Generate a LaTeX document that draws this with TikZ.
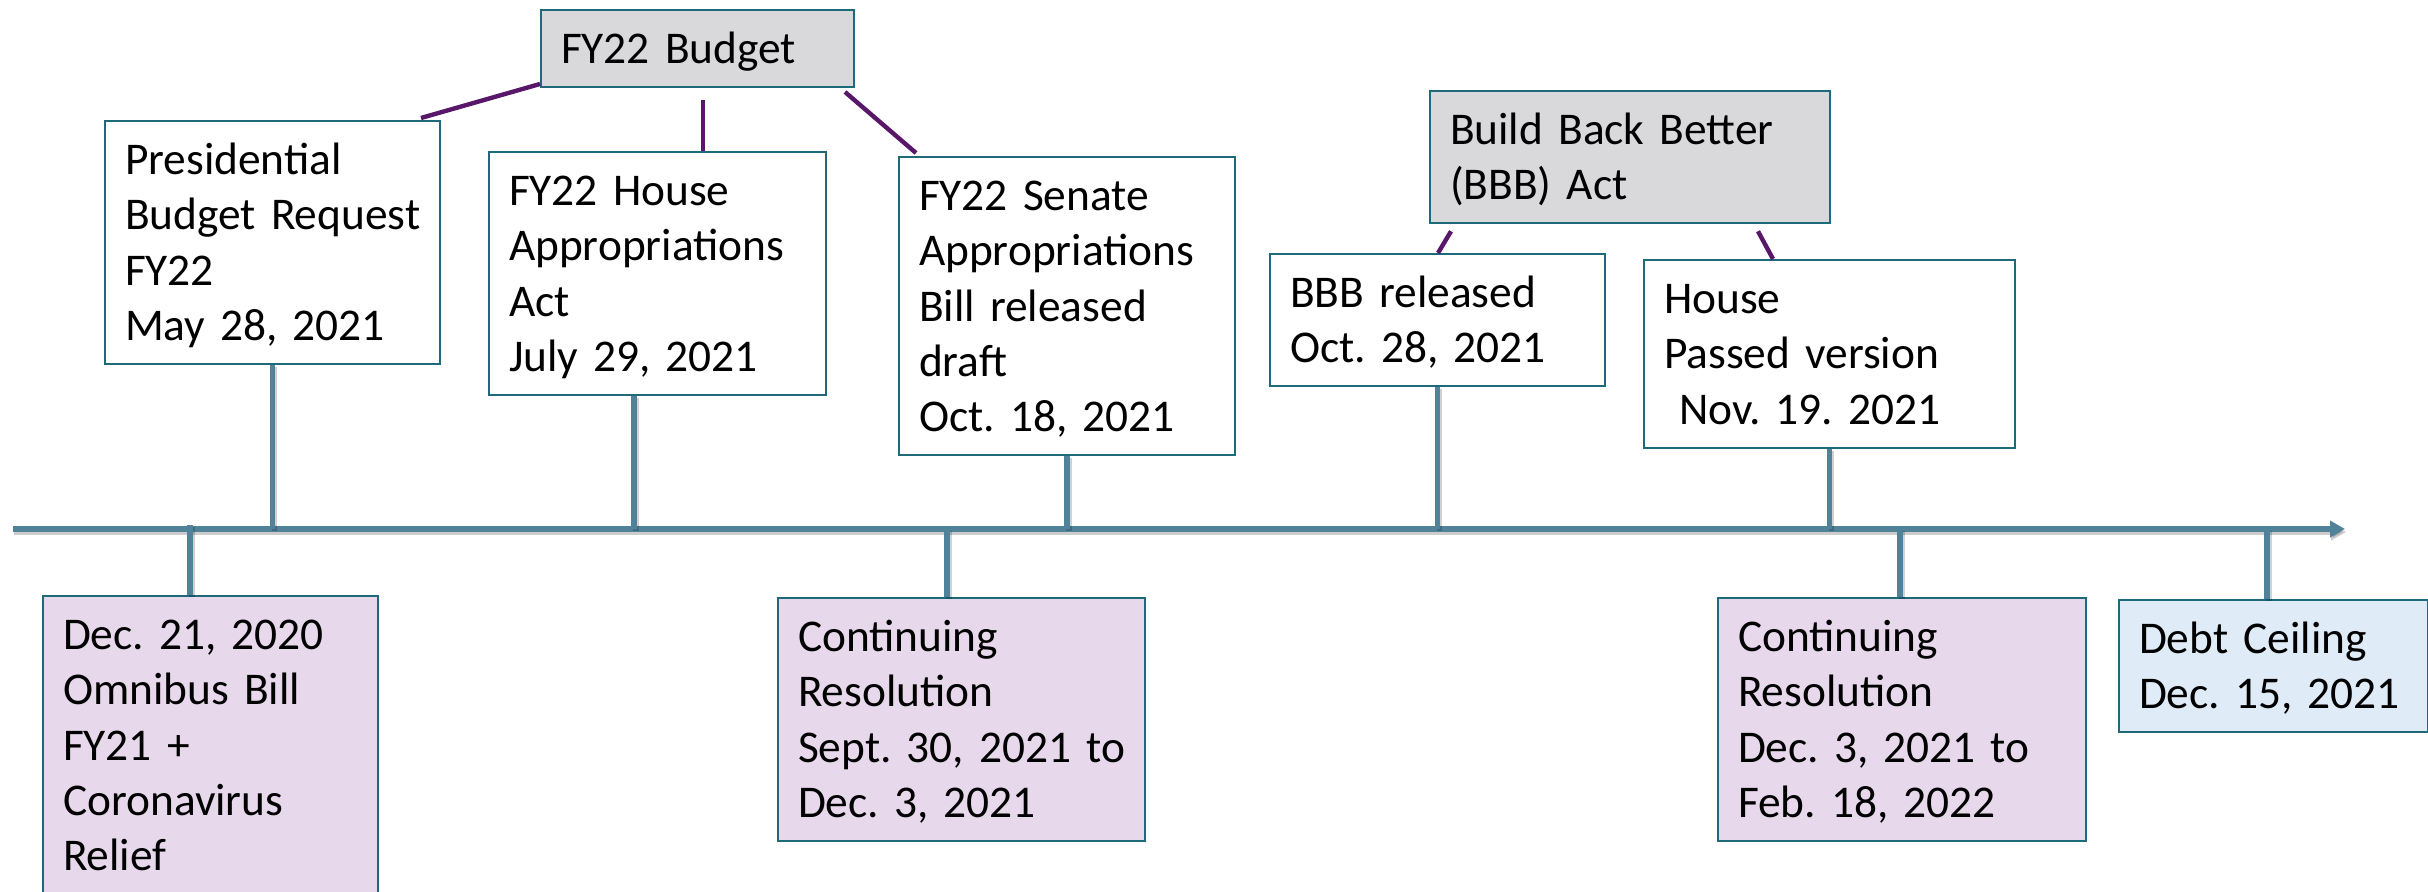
\documentclass[tikz,border=0pt]{standalone}
\usepackage{fontspec}
\setmainfont{Carlito}
\usetikzlibrary{arrows.meta}
\usetikzlibrary{calc}
\frenchspacing
\hyphenpenalty=10000
\exhyphenpenalty=10000

\definecolor{frame}{RGB}{31,106,122}
\definecolor{stemc}{RGB}{80,130,153}
\definecolor{linkc}{RGB}{88,23,104}
\definecolor{headfill}{RGB}{217,217,219}
\definecolor{crfill}{RGB}{232,216,236}
\definecolor{debtfill}{RGB}{223,236,247}

\tikzset{
  evt/.style={draw=frame, line width=1pt, fill=white, anchor=north west,
    align=left, inner xsep=10pt, inner ysep=0pt,
    font=\fontsize{22.7pt}{27.65pt}\selectfont,
    execute at begin node={\rule{0pt}{26.75pt}},
    execute at end node={\rule[-11.75pt]{0pt}{11.75pt}}},
  head/.style={evt, fill=headfill},
  cr/.style={evt, fill=crfill},
  link/.style={draw=linkc, line width=2.2pt},
  stem/.style={draw=stemc, line width=2.6pt,
    preaction={draw=black, opacity=.18, line width=2.6pt,
      transform canvas={shift={(1pt,-1pt)}}}},
  tline/.style={draw=stemc, line width=3pt, -{Triangle[length=7.5pt,width=8pt]},
    preaction={draw=black, opacity=.2, line width=3pt,
      transform canvas={shift={(0.5pt,-1.5pt)}}}}
}

\begin{document}
\begin{tikzpicture}[x=0.5pt, y=-0.5pt]
    \useasboundingbox (0,0) rectangle (2428,892);

    % boxes above the line
    \node[head, text width=136.5pt] (budget) at (540,9) {FY22 Budget};
    \node[evt, text width=147.5pt] (pres) at (104,120) {Presidential\\Budget~Request\\FY22\\May 28, 2021};
    \node[evt, text width=148.5pt] (house) at (488,151) {FY22 House\\Appropriations\\Act\\July 29, 2021};
    \node[evt, text width=148pt] (senate) at (898,156) {FY22 Senate\\Appropriations\\Bill released\\draft\\Oct. 18, 2021};
    \node[head, text width=180pt] (bbb) at (1429,90) {Build Back Better\\(BBB) Act};
    \node[evt, text width=147.5pt] (bbbrel) at (1269,253) {BBB released\\Oct. 28, 2021};
    \node[evt, text width=165.5pt] (hpass) at (1643,259) {House\\Passed version\\\ Nov. 19. 2021};

    % boxes below the line
    \node[cr, text width=147.5pt] (omni) at (42,595) {Dec. 21, 2020\\Omnibus Bill\\FY21 +\\Coronavirus\\Relief};
    \node[cr, text width=163.5pt] (cr1) at (777,597) {Continuing\\Resolution\\Sept.~30,~2021~to\\Dec. 3, 2021};
    \node[cr, text width=164pt] (cr2) at (1717,597) {Continuing\\Resolution\\Dec. 3, 2021 to\\Feb. 18, 2022};
    \node[evt, fill=debtfill, text width=134.5pt] (debt) at (2118,599) {Debt Ceiling\\Dec. 15, 2021};

    % timeline
    \coordinate (tl0) at (13,529);
    \coordinate (tl1) at (2345,529);
    \draw[tline] (tl0) -- (tl1);

    \draw[stem] (pres.south) -- (pres.south |- tl0);
    \draw[stem] ([xshift=-11.75pt]house.south) -- ([xshift=-11.75pt]house.south |- tl0);
    \draw[stem] (senate.south) -- (senate.south |- tl0);
    \draw[stem] (bbbrel.south) -- (bbbrel.south |- tl0);
    \draw[stem] (hpass.south) -- (hpass.south |- tl0);

    \draw[stem] ([xshift=-10.25pt,yshift=2pt]omni.north |- tl0) -- ([xshift=-10.25pt]omni.north);
    \draw[stem] ([xshift=-7.25pt]cr1.north |- tl0) -- ([xshift=-7.25pt]cr1.north);
    \draw[stem] ([xshift=-1pt]cr2.north |- tl0) -- ([xshift=-1pt]cr2.north);
    \draw[stem] ([xshift=-3.25pt]debt.north |- tl0) -- ([xshift=-3.25pt]debt.north);

    % budget links
    \draw[link] ($(budget.south west)+(0,-4)$) -- ($(pres.north east)+(-20,-2)$);
    \draw[link] ($(budget.south)+(5.5,12)$) -- ($(house.north)+(45.5,0)$);
    \draw[link] ($(budget.south east)+(-10,4)$) -- ($(senate.north west)+(18,-3)$);
    \draw[link] ($(bbb.south west)+(22,7)$) -- ($(bbbrel.north)+(0.5,0)$);
    \draw[link] ($(bbb.south east)+(-73,7)$) -- ($(hpass.north)+(-56.5,0)$);

\end{tikzpicture}
\end{document}
